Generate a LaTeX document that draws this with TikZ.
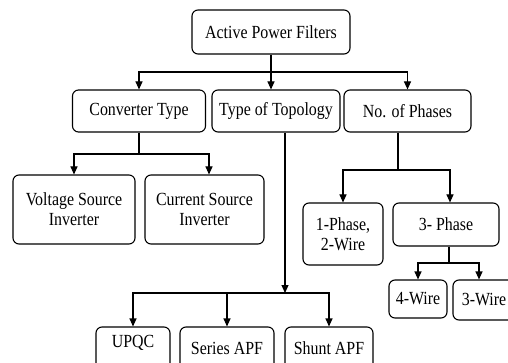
\documentclass[tikz,border=0pt]{standalone}
\usepackage{fontspec}
\setmainfont[FakeStretch=0.86]{Liberation Serif}
\usetikzlibrary{arrows.meta}
\begin{document}
\begin{tikzpicture}[x=1pt,y=-1pt,
  box/.style={draw,line width=1.1pt,rounded corners=6pt,align=center,inner sep=2pt,
    font=\fontsize{18.5}{20}\selectfont},
  arr/.style={line width=1.1pt,-{Triangle[length=8pt,width=7pt]}},
  ln/.style={line width=1.1pt}]
\useasboundingbox[fill=white] (0,0) rectangle (508,363);
\node[box,minimum width=158pt,minimum height=44pt] (root) at (271,32) {Active Power Filters};
\node[box,minimum width=133pt,minimum height=42pt] (conv) at (139,111) {Converter Type};
\node[box,minimum width=128pt,minimum height=42pt] (topo) at (276,111) {Type of Topology};
\node[box,minimum width=127pt,minimum height=42pt] (phase) at (407.5,111) {No. of Phases};
\node[box,minimum width=122pt,minimum height=69pt] (vsi) at (74,209.5) {Voltage Source\\Inverter};
\node[box,minimum width=119pt,minimum height=69pt] (csi) at (204.5,209.5) {Current Source\\Inverter};
\node[box,minimum width=80pt,minimum height=62pt] (p1) at (343,234) {1-Phase,\\2-Wire};
\node[box,minimum width=106pt,minimum height=43pt] (p3) at (446,224.5) {3- Phase};
\node[box,minimum width=58pt,minimum height=38pt] (w4) at (418,299) {4-Wire};
\node[box,minimum width=62pt,minimum height=40pt] (w3) at (484,300) {3-Wire};
\node[box,minimum width=74pt,minimum height=43pt,text depth=14pt] (upqc) at (133,348.5) {UPQC};
\node[box,minimum width=94pt,minimum height=43pt] (series) at (227,348.5) {Series APF};
\node[box,minimum width=88pt,minimum height=43pt] (shunt) at (329,348.5) {Shunt APF};
% root
\coordinate (rb) at (271,72);
\draw[ln] (root.south) -- (rb);
\draw[arr] (rb) -| (conv.north);
\draw[arr] (rb) -| (phase.north);
\draw[arr] (rb) -- (rb |- topo.north);
% converter
\coordinate (cb) at (139,154);
\draw[ln] (conv.south) -- (cb);
\draw[arr] (cb) -| (vsi.north);
\draw[arr] (cb) -| ([xshift=4.5pt]csi.north);
% topology
\coordinate (tb) at (285,293);
\draw[arr] ([xshift=9pt]topo.south) -- (tb);
\draw[arr] (tb) -| (upqc.north);
\draw[arr] (tb) -| (shunt.north);
\draw[arr] (series.north |- tb) -- (series.north);
% phases
\coordinate (pb) at (398,170);
\draw[ln] ([xshift=-9.5pt]phase.south) -- (pb);
\draw[arr] (pb) -| (p1.north);
\draw[arr] (pb) -| ([xshift=4pt]p3.north);
% 3-phase
\coordinate (qb) at (449,263);
\draw[ln] ([xshift=3pt]p3.south) -- (qb);
\draw[arr] (qb) -| (w4.north);
\draw[arr] (qb) -| ([xshift=-5pt]w3.north);
\end{tikzpicture}
\end{document}
